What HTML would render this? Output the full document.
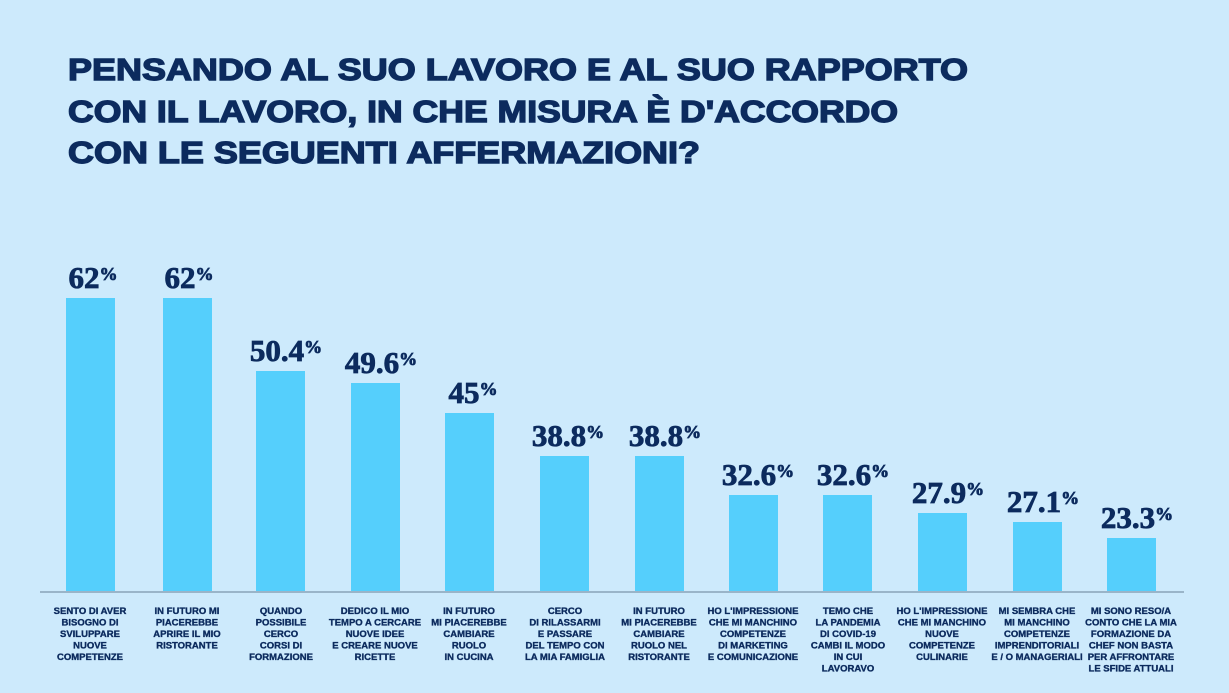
<!DOCTYPE html>
<html><head><meta charset="utf-8"><style>
html,body{margin:0;padding:0;background:#cdeafc;}
svg{display:block}
.t{font-family:"Liberation Sans",sans-serif;font-weight:bold;fill:#0c2b5e;font-size:31px;stroke:#0c2b5e;stroke-width:1.4px}
.v{font-family:"Liberation Serif",serif;font-weight:bold;fill:#0c2b5e;font-size:31px;text-anchor:middle;stroke:#0c2b5e;stroke-width:0.8px}
.c{font-family:"Liberation Sans",sans-serif;font-weight:bold;fill:#0c2b5e;font-size:9.5px;text-anchor:middle;stroke:#0c2b5e;stroke-width:0.35px}
</style></head><body>
<svg width="1229" height="693" viewBox="0 0 1229 693">
<rect width="1229" height="693" fill="#cdeafc"/>
<text class="t" x="68" y="80" textLength="900" lengthAdjust="spacingAndGlyphs">PENSANDO AL SUO LAVORO E AL SUO RAPPORTO</text>
<text class="t" x="68" y="122" textLength="830" lengthAdjust="spacingAndGlyphs">CON IL LAVORO, IN CHE MISURA È D'ACCORDO</text>
<text class="t" x="68" y="163" textLength="632" lengthAdjust="spacingAndGlyphs">CON LE SEGUENTI AFFERMAZIONI?</text>
<line x1="40" y1="592" x2="1184" y2="592" stroke="#8aa3b8" stroke-width="1.5"/>
<g fill="#55cffc">
<rect x="66" y="298" width="49" height="293"/>
<rect x="163" y="298" width="49" height="293"/>
<rect x="256" y="371" width="49" height="220"/>
<rect x="351" y="383" width="49" height="208"/>
<rect x="445" y="413" width="49" height="178"/>
<rect x="540" y="456" width="49" height="135"/>
<rect x="635" y="456" width="49" height="135"/>
<rect x="729" y="495" width="49" height="96"/>
<rect x="823" y="495" width="49" height="96"/>
<rect x="918" y="513" width="49" height="78"/>
<rect x="1013" y="522" width="49" height="69"/>
<rect x="1107" y="538" width="49" height="53"/>
</g>
<g>
<text class="v" x="93" y="288">62<tspan font-size="18" dy="-8">%</tspan></text>
<text class="v" x="189" y="288">62<tspan font-size="18" dy="-8">%</tspan></text>
<text class="v" x="286" y="361">50.4<tspan font-size="18" dy="-8">%</tspan></text>
<text class="v" x="381" y="373">49.6<tspan font-size="18" dy="-8">%</tspan></text>
<text class="v" x="473" y="403">45<tspan font-size="18" dy="-8">%</tspan></text>
<text class="v" x="568" y="446">38.8<tspan font-size="18" dy="-8">%</tspan></text>
<text class="v" x="665" y="446">38.8<tspan font-size="18" dy="-8">%</tspan></text>
<text class="v" x="758" y="485">32.6<tspan font-size="18" dy="-8">%</tspan></text>
<text class="v" x="853" y="485">32.6<tspan font-size="18" dy="-8">%</tspan></text>
<text class="v" x="948" y="503">27.9<tspan font-size="18" dy="-8">%</tspan></text>
<text class="v" x="1043" y="512">27.1<tspan font-size="18" dy="-8">%</tspan></text>
<text class="v" x="1137" y="528">23.3<tspan font-size="18" dy="-8">%</tspan></text>
</g>
<g class="c">
<text class="c" x="90" y="614">SENTO DI AVER<tspan x="90" dy="11.5">BISOGNO DI</tspan><tspan x="90" dy="11.5">SVILUPPARE</tspan><tspan x="90" dy="11.5">NUOVE</tspan><tspan x="90" dy="11.5">COMPETENZE</tspan></text>
<text class="c" x="187" y="614">IN FUTURO MI<tspan x="187" dy="11.5">PIACEREBBE</tspan><tspan x="187" dy="11.5">APRIRE IL MIO</tspan><tspan x="187" dy="11.5">RISTORANTE</tspan></text>
<text class="c" x="281" y="614">QUANDO<tspan x="281" dy="11.5">POSSIBILE</tspan><tspan x="281" dy="11.5">CERCO</tspan><tspan x="281" dy="11.5">CORSI DI</tspan><tspan x="281" dy="11.5">FORMAZIONE</tspan></text>
<text class="c" x="375" y="614">DEDICO IL MIO<tspan x="375" dy="11.5">TEMPO A CERCARE</tspan><tspan x="375" dy="11.5">NUOVE IDEE</tspan><tspan x="375" dy="11.5">E CREARE NUOVE</tspan><tspan x="375" dy="11.5">RICETTE</tspan></text>
<text class="c" x="469" y="614">IN FUTURO<tspan x="469" dy="11.5">MI PIACEREBBE</tspan><tspan x="469" dy="11.5">CAMBIARE</tspan><tspan x="469" dy="11.5">RUOLO</tspan><tspan x="469" dy="11.5">IN CUCINA</tspan></text>
<text class="c" x="565" y="614">CERCO<tspan x="565" dy="11.5">DI RILASSARMI</tspan><tspan x="565" dy="11.5">E PASSARE</tspan><tspan x="565" dy="11.5">DEL TEMPO CON</tspan><tspan x="565" dy="11.5">LA MIA FAMIGLIA</tspan></text>
<text class="c" x="659" y="614">IN FUTURO<tspan x="659" dy="11.5">MI PIACEREBBE</tspan><tspan x="659" dy="11.5">CAMBIARE</tspan><tspan x="659" dy="11.5">RUOLO NEL</tspan><tspan x="659" dy="11.5">RISTORANTE</tspan></text>
<text class="c" x="753" y="614">HO L'IMPRESSIONE<tspan x="753" dy="11.5">CHE MI MANCHINO</tspan><tspan x="753" dy="11.5">COMPETENZE</tspan><tspan x="753" dy="11.5">DI MARKETING</tspan><tspan x="753" dy="11.5">E COMUNICAZIONE</tspan></text>
<text class="c" x="848" y="614">TEMO CHE<tspan x="848" dy="11.5">LA PANDEMIA</tspan><tspan x="848" dy="11.5">DI COVID-19</tspan><tspan x="848" dy="11.5">CAMBI IL MODO</tspan><tspan x="848" dy="11.5">IN CUI</tspan><tspan x="848" dy="11.5">LAVORAVO</tspan></text>
<text class="c" x="942" y="614">HO L'IMPRESSIONE<tspan x="942" dy="11.5">CHE MI MANCHINO</tspan><tspan x="942" dy="11.5">NUOVE</tspan><tspan x="942" dy="11.5">COMPETENZE</tspan><tspan x="942" dy="11.5">CULINARIE</tspan></text>
<text class="c" x="1037" y="614">MI SEMBRA CHE<tspan x="1037" dy="11.5">MI MANCHINO</tspan><tspan x="1037" dy="11.5">COMPETENZE</tspan><tspan x="1037" dy="11.5">IMPRENDITORIALI</tspan><tspan x="1037" dy="11.5">E / O MANAGERIALI</tspan></text>
<text class="c" x="1131" y="614">MI SONO RESO/A<tspan x="1131" dy="11.5">CONTO CHE LA MIA</tspan><tspan x="1131" dy="11.5">FORMAZIONE DA</tspan><tspan x="1131" dy="11.5">CHEF NON BASTA</tspan><tspan x="1131" dy="11.5">PER AFFRONTARE</tspan><tspan x="1131" dy="11.5">LE SFIDE ATTUALI</tspan></text>
</g>
</svg>
</body></html>
